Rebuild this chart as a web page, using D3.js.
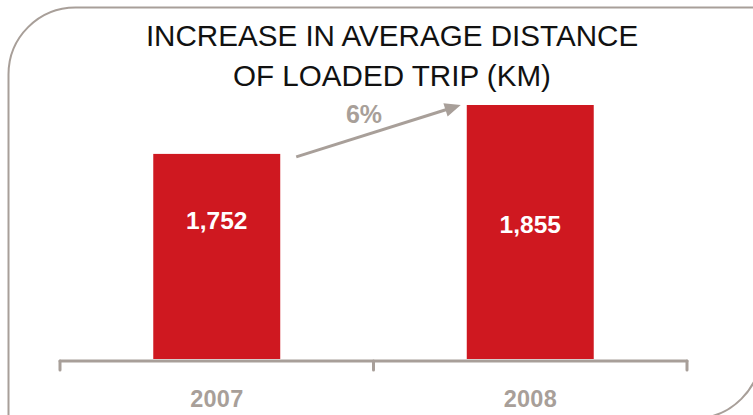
<!DOCTYPE html>
<html><head><meta charset="utf-8">
<script src="https://cdn.jsdelivr.net/npm/d3@7"></script>
<style>html,body{margin:0;padding:0;background:#fff;}svg{display:block;}</style>
</head><body><svg id="c" width="753" height="415"></svg>
<script>
const categories = ["2007", "2008"];
const values = [1752, 1855];
const valueLabels = ["1,752", "1,855"];
const growthLabel = "6%";
const titleLines = ["INCREASE IN AVERAGE DISTANCE", "OF LOADED TRIP (KM)"];
const yDomain = [1320, 1855];

const svg = d3.select("#c");
const W = 753, H = 415;
const red = "#cf1820", gray = "#a89f99";

// frame: rounded top-left and bottom-right corners
const L = 8.5, T = 7.5, R = 761, B = 418.5, r = 67;
svg.append("path")
  .attr("d", `M${L},${B + 5} L${L},${T + r} A${r},${r} 0 0 1 ${L + r},${T} L${R + 5},${T} M${R},${B - r} A${r},${r} 0 0 1 ${R - r},${B}`)
  .attr("fill", "none").attr("stroke", gray).attr("stroke-width", 2);

// title
svg.append("text").attr("x", 392).attr("text-anchor", "middle")
  .attr("font-family", "Liberation Sans, Arial, sans-serif").attr("font-size", 29.6).attr("fill", "#111")
  .selectAll("tspan").data(titleLines).join("tspan")
  .attr("x", 392).attr("y", (d, i) => 46 + i * 40).text(d => d);

const x = d3.scaleBand().domain(categories).range([60, 687]).padding(0);
const y = d3.scaleLinear().domain(yDomain).range([359, 105]);
const barW = x.bandwidth() * 0.405;
const cx = d => x(d) + x.bandwidth() / 2;

// bars
svg.selectAll("rect.bar").data(categories).join("rect").attr("class", "bar")
  .attr("x", d => cx(d) - barW / 2).attr("width", barW)
  .attr("y", (d, i) => y(values[i])).attr("height", (d, i) => y(yDomain[0]) - y(values[i]))
  .attr("fill", red);

// value labels
const labelY = [229, 233];
svg.selectAll("text.val").data(categories).join("text").attr("class", "val")
  .attr("x", d => cx(d)).attr("y", (d, i) => labelY[i]).attr("text-anchor", "middle")
  .attr("font-family", "Liberation Sans, Arial, sans-serif").attr("font-weight", "bold")
  .attr("font-size", 24.5).attr("fill", "#fff").text((d, i) => valueLabels[i]);

// axis
const axisG = svg.append("g").attr("transform", "translate(0,361)");
axisG.call(d3.axisBottom(x).tickSize(0).tickFormat(""));
axisG.select(".domain").remove();
axisG.append("line").attr("x1", 60).attr("x2", 687).attr("stroke", gray).attr("stroke-width", 3).attr("stroke-linecap", "round");
const tickPos = [60, (x(categories[1])), 687];
axisG.selectAll("line.tk").data(tickPos).join("line").attr("class", "tk")
  .attr("x1", d => d).attr("x2", d => d).attr("y1", 0).attr("y2", 9)
  .attr("stroke", gray).attr("stroke-width", 3).attr("stroke-linecap", "round");

// category labels
svg.selectAll("text.cat").data(categories).join("text").attr("class", "cat")
  .attr("x", d => cx(d)).attr("y", 407).attr("text-anchor", "middle")
  .attr("font-family", "Liberation Sans, Arial, sans-serif").attr("font-weight", "bold")
  .attr("font-size", 23.5).attr("fill", gray).attr("textLength", 53).text(d => d);

// growth arrow
const x0 = cx(categories[0]) + barW / 2 + 16, y0 = y(values[0]) + 3;
const x1 = cx(categories[1]) - barW / 2 - 6, y1 = y(values[1]);
const ang = Math.atan2(y1 - y0, x1 - x0);
const hl = 16, hw = 7;
const bx = x1 - hl * Math.cos(ang), by = y1 - hl * Math.sin(ang);
svg.append("line").attr("x1", x0).attr("y1", y0).attr("x2", bx + 2 * Math.cos(ang)).attr("y2", by + 2 * Math.sin(ang))
  .attr("stroke", gray).attr("stroke-width", 3);
svg.append("path")
  .attr("d", `M${x1},${y1} L${bx - hw * Math.sin(ang)},${by + hw * Math.cos(ang)} L${bx + hw * Math.sin(ang)},${by - hw * Math.cos(ang)} Z`)
  .attr("fill", gray);
svg.append("text").attr("x", 364).attr("y", 123).attr("text-anchor", "middle")
  .attr("font-family", "Liberation Sans, Arial, sans-serif").attr("font-weight", "bold")
  .attr("font-size", 25).attr("fill", gray).text(growthLabel);
</script></body></html>
